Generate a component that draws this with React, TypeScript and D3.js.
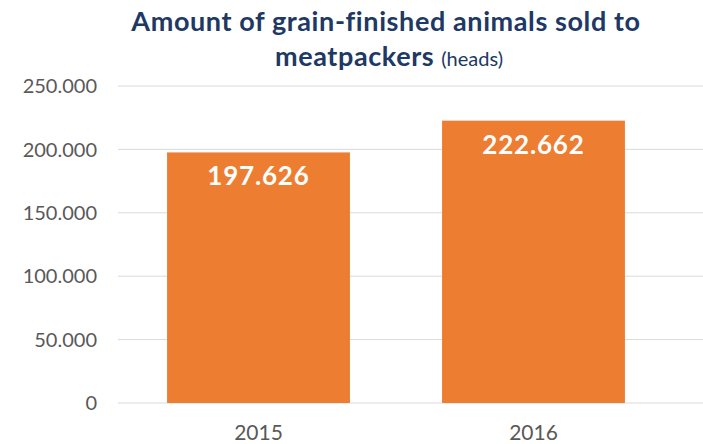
import React from "react";
import * as d3 from "d3";

const categories = ["2015", "2016"];
const values = [197626, 222662];
const valueLabels = ["197.626", "222.662"];
const yTicks = [0, 50000, 100000, 150000, 200000, 250000];
const yTickLabels = ["0", "50.000", "100.000", "150.000", "200.000", "250.000"];

const W = 703;
const H = 444;
const FONT = "Lato, 'Open Sans', sans-serif";

export default function App() {
  const y = d3.scaleLinear().domain([0, 250000]).range([403, 86]);
  const x = d3
    .scaleBand<string>()
    .domain(categories)
    .range([121, 671])
    .paddingInner(0.335)
    .paddingOuter(0.1675);

  return (
    <svg
      width={W}
      height={H}
      style={{ position: "absolute", left: 0, top: 0, background: "#fff" }}
      fontFamily={FONT}
    >
      <text x={386} y={31} textAnchor="middle" fontSize={27} fontWeight={700} letterSpacing={0.6} fill="#203864">
        Amount of grain-finished animals sold to
      </text>
      <text x={389} y={66} textAnchor="middle" fill="#203864">
        <tspan fontSize={27} fontWeight={700} letterSpacing={0.6}>meatpackers</tspan>
        <tspan fontSize={20} dx={7}>(heads)</tspan>
      </text>

      {yTicks.map((t, i) => (
        <g key={t}>
          <line x1={118} x2={703} y1={y(t)} y2={y(t)} stroke="#d9d9d9" strokeWidth={1} />
          <text
            x={97}
            y={y(t)}
            dy="0.36em"
            textAnchor="end"
            fontSize={20}
            fill="#595959"
          >
            {yTickLabels[i]}
          </text>
        </g>
      ))}

      {categories.map((c, i) => {
        const bx = x(c) as number;
        const bw = x.bandwidth();
        const top = y(values[i]);
        return (
          <g key={c}>
            <rect x={bx} y={top} width={bw} height={y(0) - top} fill="#ED7D31" />
            <text
              x={bx + bw / 2}
              y={top + 33}
              textAnchor="middle"
              fontSize={26}
              fontWeight={700}
              letterSpacing={0.8}
              fill="#ffffff"
            >
              {valueLabels[i]}
            </text>
            <text x={bx + bw / 2} y={440} textAnchor="middle" fontSize={21} fill="#595959">
              {c}
            </text>
          </g>
        );
      })}
    </svg>
  );
}
